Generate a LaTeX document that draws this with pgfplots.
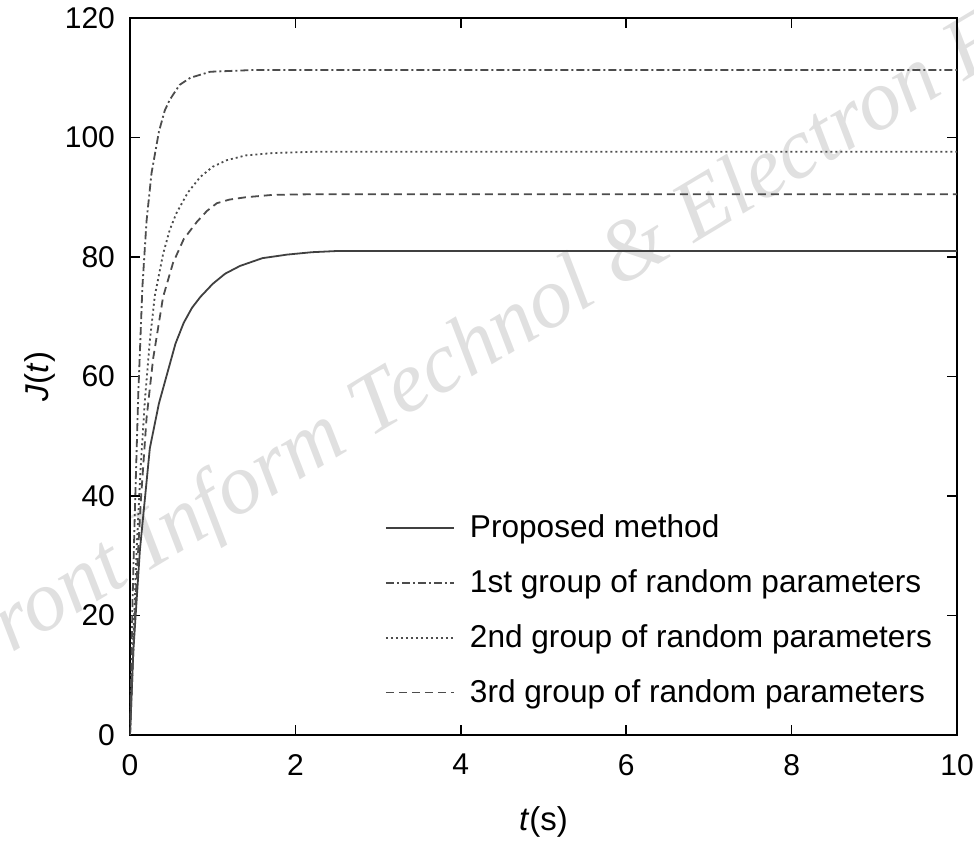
\documentclass[border=0pt]{standalone}
\usepackage{pgfplots}
\pgfplotsset{compat=1.18}
\usepackage{fontspec}
\setmainfont{Liberation Sans}
\newfontfamily\wmfont{Liberation Serif}
\begin{document}
\begin{tikzpicture}
\node[rotate=31, text=black!12, font=\wmfont\itshape\fontsize{43}{43}\selectfont] at (192pt,204pt) {Front Inform Technol \& Electron Eng};
\begin{axis}[
  at={(0,0)}, anchor=south west,
  scale only axis, width=413.5pt, height=358.5pt,
  xmin=0, xmax=10, ymin=0, ymax=120,
  xtick={0,2,...,10}, ytick={0,20,...,120},
  tick align=inside, tick pos=both,
  major tick length=5pt,
  /pgf/number format/assume math mode=true,
  ticklabel style={font=\fontsize{15}{18}\selectfont},
  xticklabel style={yshift=-6pt},
  yticklabel style={xshift=-4pt},
  xlabel={\textit{t}(s)}, ylabel={\textit{J}(\textit{t})},
  label style={font=\fontsize{16.5}{19}\selectfont},
  xlabel style={yshift=-9pt},
  ylabel style={yshift=-2pt},
  axis line style={line width=0.8pt},
  every tick/.style={line width=0.8pt, black},
  legend style={draw=none, fill=none, at={(0.975,0.035)}, anchor=south east,
    font=\fontsize{15.8}{18}\selectfont, row sep=10.5pt, column sep=5.5pt, inner sep=0pt},
  legend cell align=left,
  legend image code/.code={\draw[#1] (0cm,0cm) -- (1.2cm,0cm);},
]
\addplot[black!75, line width=0.9pt, solid] coordinates {
(0,0)(0.04,14)(0.12,31)(0.24,48)(0.35,55.5)(0.45,60.5)(0.55,65.5)(0.65,69)(0.75,71.5)(0.85,73.3)(1.0,75.5)(1.15,77.2)(1.33,78.5)(1.6,79.8)(1.9,80.4)(2.2,80.8)(2.5,81)(10,81)};
\addlegendentry{Proposed method}
\addplot[black!70, line width=0.9pt, dash pattern=on 4pt off 1.5pt on 1pt off 1.5pt] coordinates {
(0,0)(0.03,22)(0.06,38)(0.1,57)(0.15,75)(0.2,86)(0.26,94)(0.35,101)(0.42,104.5)(0.48,106.3)(0.6,108.8)(0.73,110)(0.97,111)(1.5,111.3)(10,111.3)};
\addlegendentry{1st group of random parameters}
\addplot[black!70, line width=0.9pt, dash pattern=on 1pt off 1.5pt] coordinates {
(0,0)(0.04,16)(0.08,31)(0.13,45)(0.18,56)(0.24,66)(0.3,73.5)(0.4,80.5)(0.48,84.5)(0.56,87.3)(0.7,90.8)(0.85,93.4)(1.0,95.1)(1.17,96.2)(1.4,97)(1.73,97.4)(2.2,97.6)(10,97.6)};
\addlegendentry{2nd group of random parameters}
\addplot[black!70, line width=0.9pt, dash pattern=on 4pt off 2.5pt] coordinates {
(0,0)(0.04,14)(0.08,26)(0.13,39)(0.2,53)(0.28,63)(0.4,73.3)(0.52,79)(0.65,83)(0.81,85.9)(0.93,87.7)(1.05,89)(1.2,89.6)(1.4,90)(1.73,90.4)(2.2,90.5)(10,90.5)};
\addlegendentry{3rd group of random parameters}
\end{axis}
\pgfresetboundingbox
\path (-65pt,-54.5pt) rectangle (422pt,367.5pt);
\end{tikzpicture}
\end{document}
